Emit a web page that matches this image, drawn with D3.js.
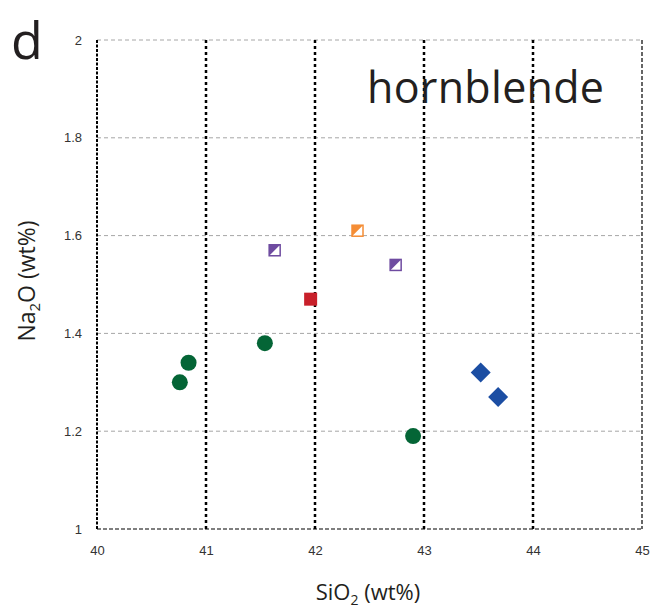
<!DOCTYPE html>
<html>
<head>
<meta charset="utf-8">
<script src="https://cdn.jsdelivr.net/npm/d3@7"></script>
<style>
  body { margin: 0; background: #fff; }
  svg { display: block; }
</style>
</head>
<body>
<div id="chart"></div>
<script>
// données (SiO2, Na2O en wt%)
const circlesGreen = [
  { si: 40.76, na: 1.30 },
  { si: 40.84, na: 1.34 },
  { si: 41.54, na: 1.38 },
  { si: 42.90, na: 1.19 }
];
const diamondsBlue = [
  { si: 43.52, na: 1.32 },
  { si: 43.68, na: 1.27 }
];
const squaresRed = [{ si: 41.96, na: 1.47 }];
const halfOrange = [{ si: 42.39, na: 1.61 }];
const halfPurple = [
  { si: 41.63, na: 1.57 },
  { si: 42.74, na: 1.54 }
];
const xTicks = [40, 41, 42, 43, 44, 45];
const yTicks = [1, 1.2, 1.4, 1.6, 1.8, 2];

const width = 661, height = 612;
const margin = { left: 97, right: 19, top: 40, bottom: 83 };

const svg = d3.select("#chart").append("svg")
  .attr("width", width)
  .attr("height", height);

const x = d3.scaleLinear().domain([40, 45]).range([margin.left, width - margin.right]);
const y = d3.scaleLinear().domain([1, 2]).range([height - margin.bottom, margin.top]);

// lignes horizontales grises
svg.append("g")
  .selectAll("line")
  .data(yTicks.filter(d => d > 1))
  .enter()
  .append("line")
  .attr("x1", x(40)).attr("x2", x(45))
  .attr("y1", d => y(d)).attr("y2", d => y(d))
  .attr("stroke", "#a6a6a6")
  .attr("stroke-width", 1)
  .attr("stroke-dasharray", "4,3");

// lignes verticales noires (pointillés)
svg.append("g")
  .selectAll("line")
  .data(xTicks.filter(d => d > 40 && d < 45))
  .enter()
  .append("line")
  .attr("x1", d => x(d)).attr("x2", d => x(d))
  .attr("y1", y(2)).attr("y2", y(1))
  .attr("stroke", "#000")
  .attr("stroke-width", 2.5)
  .attr("stroke-dasharray", "3,3");

// bordures
svg.append("line")
  .attr("x1", x(40)).attr("x2", x(40)).attr("y1", y(2)).attr("y2", y(1))
  .attr("stroke", "#000").attr("stroke-width", 2).attr("stroke-dasharray", "3,1.5");
svg.append("line")
  .attr("x1", x(45)).attr("x2", x(45)).attr("y1", y(2)).attr("y2", y(1))
  .attr("stroke", "#000").attr("stroke-width", 1.2).attr("stroke-dasharray", "4,2");
svg.append("line")
  .attr("x1", x(40)).attr("x2", x(45)).attr("y1", y(1)).attr("y2", y(1))
  .attr("stroke", "#000").attr("stroke-width", 1.2).attr("stroke-dasharray", "4,2");

// axes (labels seulement)
const xAxis = svg.append("g")
  .attr("transform", "translate(0," + (y(1) + 14) + ")")
  .call(d3.axisBottom(x).tickValues(xTicks).tickSize(0).tickFormat(d3.format("d")));
xAxis.select(".domain").remove();

const yAxis = svg.append("g")
  .attr("transform", "translate(" + (x(40) - 12) + ",0)")
  .call(d3.axisLeft(y).tickValues(yTicks).tickSize(0).tickFormat(d => d === 1 || d === 2 ? d3.format("d")(d) : d3.format(".1f")(d)));
yAxis.select(".domain").remove();

svg.selectAll(".tick text")
  .attr("fill", "#333")
  .style("font-family", "'Liberation Sans', Arial, sans-serif")
  .style("font-size", "13px");

// points verts
svg.append("g")
  .selectAll("circle")
  .data(circlesGreen)
  .enter()
  .append("circle")
  .attr("cx", d => x(d.si))
  .attr("cy", d => y(d.na))
  .attr("r", 8)
  .style("fill", "#046536");

// losanges bleus
svg.append("g")
  .selectAll("path")
  .data(diamondsBlue)
  .enter()
  .append("path")
  .attr("transform", d => "translate(" + x(d.si) + "," + y(d.na) + ")")
  .attr("d", "M0,-10L10,0L0,10L-10,0Z")
  .style("fill", "#1c4ea3");

// carré rouge
svg.append("g")
  .selectAll("rect")
  .data(squaresRed)
  .enter()
  .append("rect")
  .attr("x", d => x(d.si) - 6.5)
  .attr("y", d => y(d.na) - 6.5)
  .attr("width", 13)
  .attr("height", 13)
  .style("fill", "#c8202a");

// carrés à moitié remplis
function halfSquares(data, color) {
  const g = svg.append("g")
    .selectAll("g")
    .data(data)
    .enter()
    .append("g")
    .attr("transform", d => "translate(" + x(d.si) + "," + y(d.na) + ")");
  g.append("rect")
    .attr("x", -5.5).attr("y", -5.5)
    .attr("width", 11).attr("height", 11)
    .style("fill", "#fff")
    .style("stroke", color)
    .style("stroke-width", 1.5);
  g.append("path")
    .attr("d", "M-5.5,-5.5L5.5,-5.5L-5.5,5.5Z")
    .style("fill", color);
}
halfSquares(halfOrange, "#f58d35");
halfSquares(halfPurple, "#6e4ba0");

// textes
svg.append("text")
  .attr("x", 11).attr("y", 59)
  .style("font-family", "'Open Sans', 'Noto Sans', sans-serif")
  .style("font-size", "52px")
  .style("fill", "#231f20")
  .text("d");

svg.append("text")
  .attr("x", 367).attr("y", 103)
  .attr("textLength", 237)
  .style("font-family", "'Open Sans', 'Noto Sans', sans-serif")
  .style("font-size", "43px")
  .style("fill", "#231f20")
  .text("hornblende");

const xl = svg.append("text")
  .attr("x", 368).attr("y", 600)
  .attr("text-anchor", "middle")
  .style("font-family", "'Open Sans', 'Noto Sans', sans-serif")
  .style("font-size", "22px")
  .style("fill", "#231f20");
xl.append("tspan").text("SiO");
xl.append("tspan").attr("dy", 5).style("font-size", "14px").text("2");
xl.append("tspan").attr("dy", -5).text(" (wt%)");

const yl = svg.append("text")
  .attr("transform", "translate(35,281) rotate(-90)")
  .attr("text-anchor", "middle")
  .style("font-family", "'Open Sans', 'Noto Sans', sans-serif")
  .style("font-size", "23px")
  .style("fill", "#231f20");
yl.append("tspan").text("Na");
yl.append("tspan").attr("dy", 5).style("font-size", "15px").text("2");
yl.append("tspan").attr("dy", -5).text("O (wt%)");
</script>
</body>
</html>
